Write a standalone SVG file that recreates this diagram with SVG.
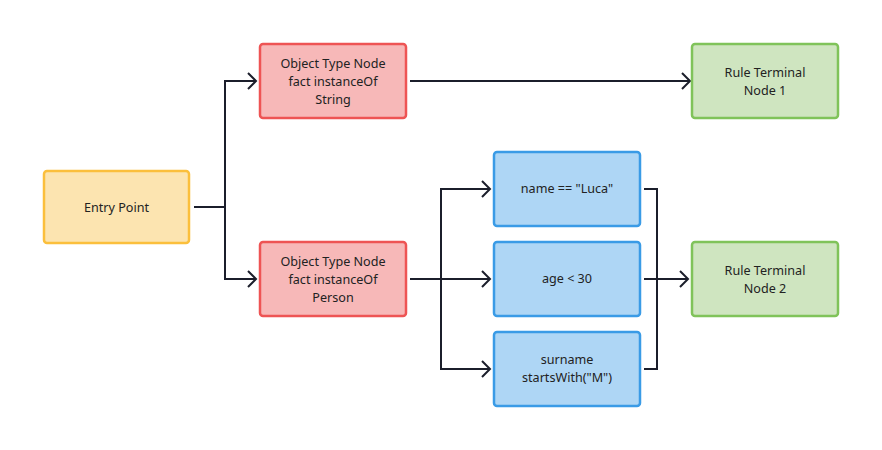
<svg xmlns="http://www.w3.org/2000/svg" width="882" height="450" viewBox="0 0 882 450">
<defs>
<style>
.n rect{stroke-width:2.5}
.entry rect{fill:#fce4b0;stroke:#fbbf3c}
.otn rect{fill:#f7b8b8;stroke:#ee5454}
.rtn rect{fill:#cfe5c0;stroke:#80c35a}
.cond rect{fill:#aed6f5;stroke:#3a9be6}
text{font-family:"Noto Sans","Open Sans",sans-serif;font-size:12.6px;fill:#222;text-anchor:middle}
.c path{fill:none;stroke:#1b1e2b;stroke-width:2}
</style>
<marker id="ah" markerWidth="12" markerHeight="18" refX="10" refY="9" orient="auto" markerUnits="userSpaceOnUse">
<path d="M2,1 L10,9 L2,17" fill="none" stroke="#1b1e2b" stroke-width="2"/>
</marker>
</defs>
<g id="connectors" class="c">
<path d="M194,207 H225 V81 H256" marker-end="url(#ah)"/>
<path d="M225,207 V279 H256" marker-end="url(#ah)"/>
<path d="M410,81 H690" marker-end="url(#ah)"/>
<path d="M410,279 H490" marker-end="url(#ah)"/>
<path d="M441,279 V189 H490" marker-end="url(#ah)"/>
<path d="M441,279 V369 H490" marker-end="url(#ah)"/>
<path d="M644,189 H657 V369 H644"/>
<path d="M644,279 H688" marker-end="url(#ah)"/>
</g>
<g id="entry" class="n entry">
<rect x="44" y="171" width="145" height="72" rx="3"/>
<text x="116.5" y="211.5">Entry Point</text>
</g>
<g id="otn-string" class="n otn">
<rect x="260" y="44" width="146" height="74" rx="3"/>
<text x="333" y="68">Object Type Node</text>
<text x="333" y="86">fact instanceOf</text>
<text x="333" y="104">String</text>
</g>
<g id="otn-person" class="n otn">
<rect x="260" y="242" width="146" height="74" rx="3"/>
<text x="333" y="266">Object Type Node</text>
<text x="333" y="284">fact instanceOf</text>
<text x="333" y="302">Person</text>
</g>
<g id="rtn1" class="n rtn">
<rect x="692" y="44" width="146" height="74" rx="3"/>
<text x="765" y="77">Rule Terminal</text>
<text x="765" y="95">Node 1</text>
</g>
<g id="rtn2" class="n rtn">
<rect x="692" y="242" width="146" height="74" rx="3"/>
<text x="765" y="275">Rule Terminal</text>
<text x="765" y="293">Node 2</text>
</g>
<g id="cond-name" class="n cond">
<rect x="494" y="152" width="146" height="74" rx="3"/>
<text x="567" y="193">name == "Luca"</text>
</g>
<g id="cond-age" class="n cond">
<rect x="494" y="242" width="146" height="74" rx="3"/>
<text x="567" y="283">age &lt; 30</text>
</g>
<g id="cond-surname" class="n cond">
<rect x="494" y="332" width="146" height="74" rx="3"/>
<text x="567" y="364">surname</text>
<text x="567" y="382">startsWith("M")</text>
</g>
</svg>
